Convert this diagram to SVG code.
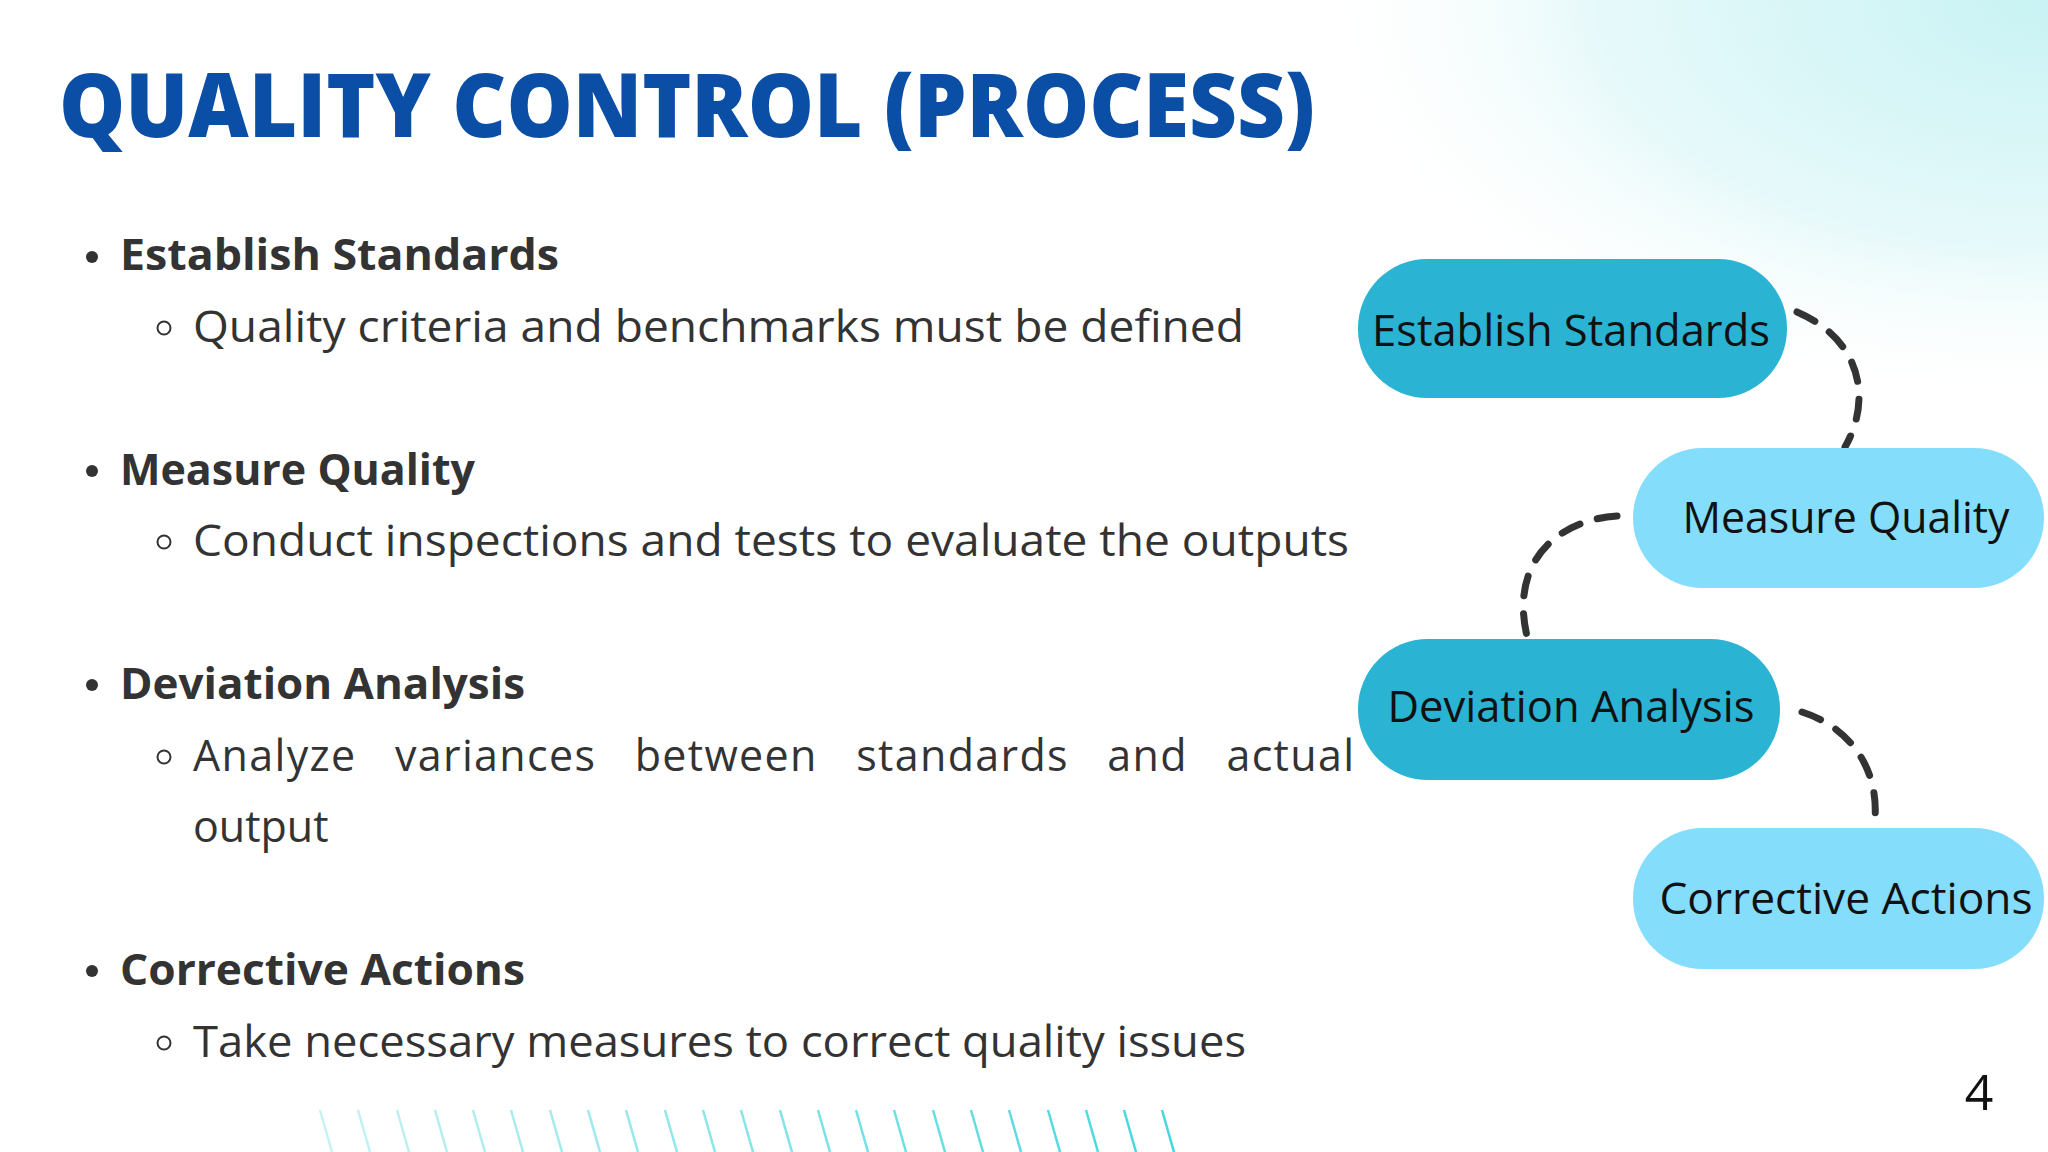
<svg xmlns="http://www.w3.org/2000/svg" width="2048" height="1152" viewBox="0 0 2048 1152">
<defs>
<radialGradient id="bg" cx="2048" cy="0" r="750" gradientUnits="userSpaceOnUse" gradientTransform="translate(2048 0) scale(1 0.55) translate(-2048 0)">
<stop offset="0" stop-color="#c9f3f4"/><stop offset="0.6" stop-color="#e6f9fa"/><stop offset="1" stop-color="#ffffff" stop-opacity="0"/>
</radialGradient>
<linearGradient id="hatch" x1="320" y1="0" x2="1200" y2="0" gradientUnits="userSpaceOnUse">
<stop offset="0" stop-color="#c8f2f2"/><stop offset="1" stop-color="#3fd6dc"/>
</linearGradient>
<pattern id="hp" x="320" y="0" width="38.3" height="1152" patternUnits="userSpaceOnUse"/>
</defs>
<style>
.b{font-family:"Open Sans","Liberation Sans",sans-serif;font-weight:700;font-size:43px;fill:#333333}
.s{font-family:"Open Sans","Liberation Sans",sans-serif;font-size:43px;fill:#333333}
.p{font-family:"Open Sans","Liberation Sans",sans-serif;font-size:43px;fill:#111111;text-anchor:middle}
.dark{fill:#2ab3d3}.light{fill:#84ddfb}
.c{fill:none;stroke:#333333;stroke-width:7;stroke-dasharray:20 18;stroke-linecap:round}
.dot{fill:#333333}.ring{fill:none;stroke:#333333;stroke-width:2}
</style>
<rect width="2048" height="1152" fill="#ffffff"/>
<rect width="2048" height="1152" fill="url(#bg)"/>
<text x="59" y="137" font-family="'Open Sans','Liberation Sans',sans-serif" font-weight="800" font-size="88" fill="#0a4ea6" textLength="1256" lengthAdjust="spacingAndGlyphs">QUALITY CONTROL (PROCESS)</text>
<g id="bullets">
<circle class="dot" cx="92" cy="257" r="6"/>
<text class="b" x="120" y="270" textLength="439" lengthAdjust="spacingAndGlyphs">Establish Standards</text>
<circle class="ring" cx="164" cy="328" r="6.5"/>
<text class="s" x="193" y="342" textLength="1051" lengthAdjust="spacingAndGlyphs">Quality criteria and benchmarks must be defined</text>
<circle class="dot" cx="92" cy="471" r="6"/>
<text class="b" x="120" y="485" textLength="355" lengthAdjust="spacingAndGlyphs">Measure Quality</text>
<circle class="ring" cx="164" cy="542" r="6.5"/>
<text class="s" x="193" y="556" textLength="1156" lengthAdjust="spacingAndGlyphs">Conduct inspections and tests to evaluate the outputs</text>
<circle class="dot" cx="92" cy="685" r="6"/>
<text class="b" x="120" y="699" textLength="405" lengthAdjust="spacingAndGlyphs">Deviation Analysis</text>
<circle class="ring" cx="164" cy="757" r="6.5"/>
<text class="s" x="193" y="771" word-spacing="26" textLength="1161" lengthAdjust="spacing">Analyze variances between standards and actual</text>
<text class="s" x="193" y="842">output</text>
<circle class="dot" cx="92" cy="971" r="6"/>
<text class="b" x="120" y="985" textLength="405" lengthAdjust="spacingAndGlyphs">Corrective Actions</text>
<circle class="ring" cx="164" cy="1043" r="6.5"/>
<text class="s" x="193" y="1057" textLength="1053" lengthAdjust="spacingAndGlyphs">Take necessary measures to correct quality issues</text>
</g>
<g id="connectors">
<path class="c" d="M1797 312 C1862 340 1872 400 1845 447"/>
<path class="c" d="M1617 516 C1555 520 1508 565 1528 640"/>
<path class="c" d="M1802 712 C1852 728 1882 772 1874 828"/>
</g>
<g id="n1"><rect class="dark" x="1358" y="259" width="429" height="139" rx="69"/><text class="p" x="1571" y="346" textLength="398" lengthAdjust="spacingAndGlyphs">Establish Standards</text></g>
<g id="n2"><rect class="light" x="1633" y="448" width="411" height="140" rx="70"/><text class="p" x="1846" y="533" textLength="327" lengthAdjust="spacingAndGlyphs">Measure Quality</text></g>
<g id="n3"><rect class="dark" x="1358" y="639" width="422" height="141" rx="70"/><text class="p" x="1571" y="722" textLength="367" lengthAdjust="spacingAndGlyphs">Deviation Analysis</text></g>
<g id="n4"><rect class="light" x="1633" y="828" width="411" height="141" rx="70"/><text class="p" x="1846" y="914" textLength="373" lengthAdjust="spacingAndGlyphs">Corrective Actions</text></g>
<g id="hatching" stroke="url(#hatch)" stroke-width="2.5">
<path d="M320 1110l12 42M358 1110l12 42M397 1110l12 42M435 1110l12 42M473 1110l12 42M511 1110l12 42M550 1110l12 42M588 1110l12 42M626 1110l12 42M665 1110l12 42M703 1110l12 42M741 1110l12 42M780 1110l12 42M818 1110l12 42M856 1110l12 42M894 1110l12 42M933 1110l12 42M971 1110l12 42M1009 1110l12 42M1048 1110l12 42M1086 1110l12 42M1124 1110l12 42M1162 1110l12 42"/>
</g>
<text x="1979" y="1110" font-family="'Open Sans','Liberation Sans',sans-serif" font-size="50" fill="#111111" text-anchor="middle">4</text>
</svg>
